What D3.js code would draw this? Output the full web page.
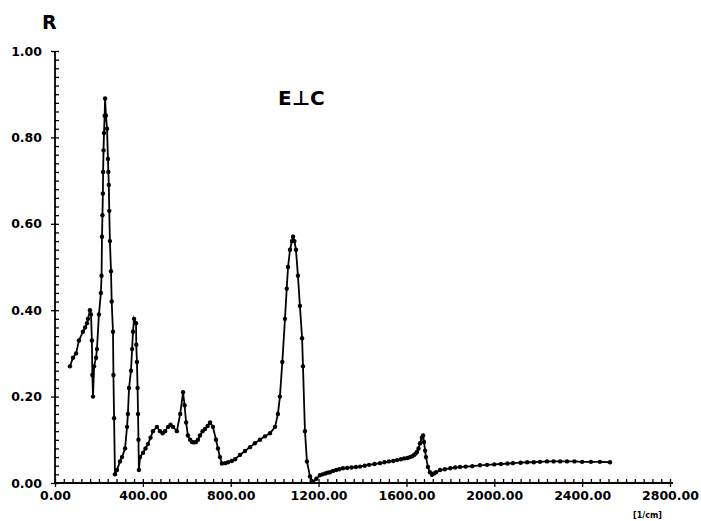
<!DOCTYPE html>
<html>
<head>
<meta charset="utf-8">
<script src="https://cdn.jsdelivr.net/npm/d3@7"></script>
<style>
  body { margin: 0; background: #fff; }
  text { font-family: "DejaVu Sans", sans-serif; fill: #000; }
</style>
</head>
<body>
<div id="canvas"></div>
<script>
// wavenumber [1/cm]
var wave = [68, 82, 96, 109, 127, 137, 146, 150, 159, 164, 168, 170, 173, 178, 187, 191, 200, 209, 212, 214,
  216, 218, 219, 221, 223, 226, 228, 232, 237, 241, 243, 245, 247, 250, 255, 258, 264, 266, 269, 273,
  282, 296, 305, 319, 328, 332, 337, 346, 351, 355, 360, 369, 370, 373, 376, 378, 380, 382, 387, 401,
  412, 423, 435, 446, 464, 478, 490, 501, 515, 526, 537, 555, 570, 583, 590, 597, 605, 615, 624, 633, 642, 651, 660, 672, 683, 695, 706, 719, 733,
  742, 751, 760, 775, 788, 805, 820, 842, 865, 888, 910, 933, 956, 979, 1002, 1015, 1024, 1035, 1047, 1055, 1061, 1070, 1079, 1084, 1090,
  1097, 1106, 1115, 1125, 1129, 1138, 1147, 1161, 1175, 1190, 1206, 1218, 1230, 1241, 1252, 1266, 1280, 1295, 1311, 1330, 1350, 1370, 1389, 1410, 1430, 1455, 1480, 1500, 1520, 1540,
  1557, 1575, 1590, 1605, 1616, 1627, 1635, 1642, 1648, 1655, 1662, 1670, 1676, 1680, 1685, 1689, 1698, 1707, 1716, 1725, 1735, 1753, 1775, 1800, 1822, 1844, 1870, 1900, 1935, 1967, 2000, 2030,
  2060, 2085, 2120, 2150, 2180, 2208, 2240, 2270, 2300, 2331, 2365, 2400, 2440, 2481, 2527];
// reflectivity R
var refl = [0.27, 0.29, 0.30, 0.33, 0.35, 0.36, 0.37, 0.38, 0.40, 0.39, 0.33, 0.25, 0.20, 0.27, 0.29, 0.31, 0.39, 0.44, 0.48, 0.57,
  0.62, 0.67, 0.72, 0.77, 0.81, 0.85, 0.89, 0.85, 0.82, 0.75, 0.72, 0.69, 0.63, 0.56, 0.49, 0.42, 0.35, 0.25, 0.15, 0.02,
  0.03, 0.05, 0.06, 0.08, 0.13, 0.16, 0.22, 0.26, 0.31, 0.35, 0.38, 0.37, 0.32, 0.28, 0.22, 0.16, 0.10, 0.03, 0.06, 0.07,
  0.08, 0.09, 0.105, 0.12, 0.13, 0.12, 0.115, 0.12, 0.13, 0.135, 0.13, 0.12, 0.16, 0.21, 0.18, 0.14, 0.11, 0.10, 0.095, 0.094, 0.095, 0.10, 0.11, 0.12, 0.125, 0.132, 0.14, 0.13, 0.10,
  0.08, 0.06, 0.045, 0.046, 0.048, 0.051, 0.055, 0.065, 0.074, 0.083, 0.092, 0.10, 0.108, 0.115, 0.13, 0.16, 0.20, 0.28, 0.38, 0.45, 0.50, 0.54, 0.56, 0.57, 0.56,
  0.54, 0.48, 0.41, 0.335, 0.27, 0.12, 0.05, 0.015, 0.003, 0.01, 0.018, 0.02, 0.022, 0.024, 0.025, 0.028, 0.03, 0.032, 0.034, 0.035, 0.036, 0.037, 0.038, 0.04, 0.042, 0.044, 0.046, 0.048, 0.05, 0.051,
  0.053, 0.055, 0.057, 0.058, 0.06, 0.062, 0.065, 0.068, 0.072, 0.08, 0.092, 0.105, 0.11, 0.095, 0.075, 0.06, 0.037, 0.025, 0.019, 0.022, 0.025, 0.03, 0.032, 0.034, 0.036, 0.037, 0.038, 0.039, 0.041, 0.042, 0.043, 0.044,
  0.045, 0.046, 0.047, 0.048, 0.048, 0.049, 0.05, 0.05, 0.05, 0.05, 0.05, 0.049, 0.049, 0.049, 0.048];

var xTicks = [0, 400, 800, 1200, 1600, 2000, 2400, 2800];
var yTicks = [0, 0.2, 0.4, 0.6, 0.8, 1.0];

const width = 701;
const height = 521;

const svg = d3.select("#canvas").append("svg")
  .attr("width", width)
  .attr("height", height);

const x = d3.scaleLinear().domain([0, 2800]).range([55, 670]);
const y = d3.scaleLinear().domain([0, 1]).range([483, 51]);

const data = wave.map((w, i) => ({ w: w, r: refl[i] }));

// axes with minor ticks inside
const xAxis = svg.append("g").attr("transform", `translate(0, ${y(0)})`);
xAxis.append("g")
  .call(d3.axisBottom(x).tickValues(d3.range(0, 2801, 40)).tickSize(-4).tickFormat(""))
  .call(g => g.select(".domain").remove());
xAxis.append("g")
  .call(d3.axisBottom(x).tickValues(xTicks).tickSize(4).tickPadding(4).tickFormat(d3.format(".2f")))
  .call(g => g.select(".domain").remove())
  .call(g => g.selectAll("text").style("font-size", "12.5px").style("font-weight", "bold").attr("font-family", "DejaVu Sans"));
xAxis.append("line").attr("x1", x(0)).attr("x2", x(2800) + 3).attr("stroke", "#000").attr("stroke-width", 1.8);

const yAxis = svg.append("g").attr("transform", `translate(${x(0)}, 0)`);
yAxis.append("g")
  .call(d3.axisLeft(y).tickValues(d3.range(0, 1.001, 0.02)).tickSize(-4).tickFormat(""))
  .call(g => g.select(".domain").remove());
yAxis.append("g")
  .call(d3.axisLeft(y).tickValues(yTicks).tickSize(4).tickPadding(9).tickFormat(d3.format(".2f")))
  .call(g => g.select(".domain").remove())
  .call(g => g.selectAll("text").style("font-size", "12.5px").style("font-weight", "bold").attr("font-family", "DejaVu Sans"));
yAxis.append("line").attr("y1", y(0)).attr("y2", y(1)).attr("stroke", "#000").attr("stroke-width", 1.8);

svg.selectAll(".tick line").attr("stroke", "#000").attr("stroke-width", 1.3);

// curve
const line = d3.line().x(d => x(d.w)).y(d => y(d.r));
svg.append("path")
  .datum(data)
  .attr("d", line)
  .attr("fill", "none")
  .attr("stroke", "#000")
  .attr("stroke-width", 1.8);

svg.selectAll("circle.pt").data(data)
  .enter().append("circle")
  .attr("class", "pt")
  .attr("cx", d => x(d.w))
  .attr("cy", d => y(d.r))
  .attr("r", 2.2)
  .attr("fill", "#000");

// labels
svg.append("text").attr("x", 42).attr("y", 29)
  .style("font-size", "19px").style("font-weight", "bold").text("R");
svg.append("text").attr("x", 278).attr("y", 105)
  .style("font-size", "20px").style("font-weight", "bold").text("E\u22a5C");
svg.append("text").attr("x", 633).attr("y", 518)
  .style("font-size", "8px").style("font-weight", "bold").text("[1/cm]");
</script>
</body>
</html>
